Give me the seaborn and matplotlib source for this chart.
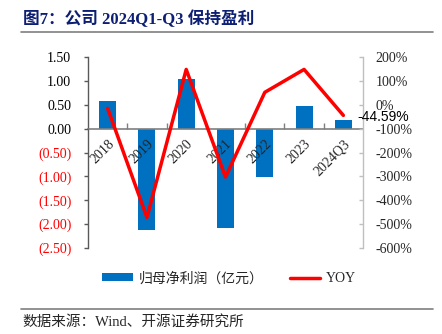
import numpy as np
import pandas as pd
import matplotlib
matplotlib.use("Agg")
import matplotlib.pyplot as plt
import seaborn as sns
from matplotlib.patches import Patch
from matplotlib.lines import Line2D

categories = ["2018", "2019", "2020", "2021", "2022", "2023", "2024Q3"]
net_profit = [0.57, -2.13, 1.03, -2.09, -1.01, 0.48, 0.19]
yoy = [-15.0, -472.0, 148.0, -303.0, 52.0, 148.0, -44.59]
left_ticks = [-2.5, -2.0, -1.5, -1.0, -0.5, 0.0, 0.5, 1.0, 1.5]
right_ticks = [-600, -500, -400, -300, -200, -100, 0, 100, 200]

sns.set_theme(style="white")
plt.rcParams["font.family"] = ["Liberation Serif", "Noto Sans CJK SC"]

W, H = 442, 334
fig = plt.figure(figsize=(W / 100, H / 100), dpi=100)
ax = fig.add_axes([88 / W, 1 - 248 / H, (363 - 88) / W, (248 - 57) / H])
ax.set_facecolor("none")

df = pd.DataFrame({"cat": categories, "val": net_profit, "pos": np.arange(len(categories)), "yoy": yoy})

sns.barplot(data=df, x="cat", y="val", ax=ax, color="#0070C0", width=0.43,
            saturation=1, edgecolor="none", zorder=2)
ax.set_axisbelow(False)
ax.set_xlim(-0.5, len(categories) - 0.5)
ax.set_ylim(-2.5, 1.5)
ax.set_xlabel("")
ax.set_ylabel("")

# left axis
ax.set_yticks(left_ticks)
ax.set_yticklabels([f"{v:.2f}" if v >= 0 else f"({abs(v):.2f})" for v in left_ticks])
for lab, v in zip(ax.get_yticklabels(), left_ticks):
    lab.set_color("#FF0000" if v < 0 else "#000000")
ax.tick_params(axis="y", which="major", direction="out", length=3, width=1,
               color="#595959", pad=9, labelsize=10, left=True)

# x axis at zero
ax.spines["bottom"].set_position(("data", 0))
ax.spines["bottom"].set_color("#7f7f7f")
ax.spines["bottom"].set_linewidth(1.2)
ax.spines["left"].set_color("#595959")
ax.spines["left"].set_linewidth(1.0)
ax.spines["top"].set_visible(False)
ax.spines["right"].set_visible(False)
ax.set_xticks(np.arange(len(categories)))
ax.set_xticklabels(categories)
ax.set_xticks(np.arange(0.5, len(categories) - 0.5, 1), minor=True)
ax.tick_params(axis="x", which="major", length=0, pad=6, labelsize=10)
ax.tick_params(axis="x", which="minor", direction="in", length=4, width=1,
               color="#7f7f7f", bottom=True)
for lab in ax.get_xticklabels():
    lab.set_rotation(45)
    lab.set_ha("right")
    lab.set_va("top")
    lab.set_rotation_mode("anchor")

# right axis
ax2 = ax.twinx()
sns.lineplot(data=df, x="pos", y="yoy", ax=ax2, color="#FF0000", linewidth=2.5, zorder=3)
ax2.set_ylim(-600, 200)
ax2.set_xlim(-0.5, len(categories) - 0.5)
ax2.set_ylabel("")
ax2.set_yticks(right_ticks)
ax2.set_yticklabels([f"{v}%" for v in right_ticks])
ax2.tick_params(axis="y", direction="in", length=3, width=1, color="#bfbfbf",
                pad=9, labelsize=10, right=True)
for s in ["top", "left", "bottom"]:
    ax2.spines[s].set_visible(False)
ax2.spines["right"].set_color("#bfbfbf")
ax2.spines["right"].set_linewidth(1.0)

ax2.annotate(f"{yoy[-1]:.2f}%", xy=(len(categories) - 1, yoy[-1]), xytext=(10, -1),
             textcoords="offset points", ha="left", va="center",
             fontfamily="Liberation Sans", fontsize=10, color="#000000")

# legend
handles = [Patch(facecolor="#0070C0", edgecolor="none"),
           Line2D([0], [0], color="#FF0000", lw=2.5)]
fig.legend(handles, ["归母净利润（亿元）", "YOY"], loc="center",
           bbox_to_anchor=(229 / W, 1 - 278.5 / H), ncol=2, frameon=False,
           fontsize=10, handlelength=2.2, handleheight=0.5, handletextpad=0.4,
           columnspacing=1.9)

# title & footer
fig.text(23 / W, 1 - 19 / H, "图7：公司 2024Q1-Q3 保持盈利", fontsize=12,
         fontweight="bold", color="#0d1f73", va="center", ha="left")
fig.add_artist(Line2D([21 / W, 433 / W], [1 - 32 / H, 1 - 32 / H],
                      color="#7f7f7f", lw=1.2, transform=fig.transFigure))
fig.add_artist(Line2D([21 / W, 433 / W], [1 - 309.3 / H, 1 - 309.3 / H],
                      color="#7f7f7f", lw=1.2, transform=fig.transFigure))
fig.text(22.7 / W, 1 - 322 / H, "数据来源：Wind、开源证券研究所", fontsize=10.5,
         color="#262626", va="center", ha="left")

fig.savefig("out.png", dpi=100)
